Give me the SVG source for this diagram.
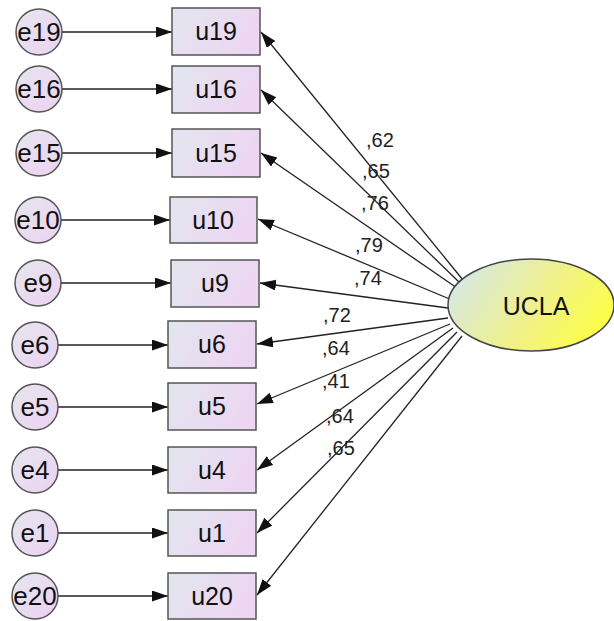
<svg xmlns="http://www.w3.org/2000/svg" width="614" height="621" viewBox="0 0 614 621">
<defs>
<linearGradient id="gRect" x1="0" y1="0" x2="1" y2="0.3">
<stop offset="0" stop-color="#e2e6ee"/><stop offset="1" stop-color="#edd6f2"/>
</linearGradient>
<linearGradient id="gCirc" x1="0" y1="0" x2="1" y2="1">
<stop offset="0" stop-color="#e6e6ee"/><stop offset="1" stop-color="#ecd2f2"/>
</linearGradient>
<linearGradient id="gEll" x1="0" y1="0.3" x2="1" y2="0.7">
<stop offset="0" stop-color="#d6e8e6"/><stop offset="0.5" stop-color="#eef08e"/><stop offset="1" stop-color="#ffff40"/>
</linearGradient>
<marker id="arr" markerUnits="userSpaceOnUse" markerWidth="18" markerHeight="12" refX="16" refY="5.5" orient="auto">
<path d="M0,0 L16,5.5 L0,11 Z" fill="#111"/>
</marker>
<style>
.rect{fill:url(#gRect);stroke:#555;stroke-width:1.5}
.circ{fill:url(#gCirc);stroke:#555;stroke-width:1.5}
.ell{fill:url(#gEll);stroke:#444;stroke-width:1.5}
.lbl{font-family:"Liberation Sans",Arial,sans-serif;font-size:25px;fill:#111;text-anchor:middle}
.el{font-size:26px}
.w{font-family:"Liberation Sans",Arial,sans-serif;font-size:20px;fill:#222}
.con{stroke:#222;stroke-width:1.3;fill:none;marker-end:url(#arr)}
</style>
</defs>
<g id="connectors">
<line class="con" x1="62" y1="32" x2="172" y2="32"/>
<line class="con" x1="62" y1="89" x2="172" y2="89"/>
<line class="con" x1="62" y1="153" x2="172" y2="153"/>
<line class="con" x1="61" y1="220" x2="170" y2="220"/>
<line class="con" x1="61" y1="283" x2="171" y2="283"/>
<line class="con" x1="58" y1="345" x2="168" y2="345"/>
<line class="con" x1="58" y1="407" x2="168" y2="407"/>
<line class="con" x1="58" y1="470" x2="168" y2="470"/>
<line class="con" x1="58" y1="533" x2="168" y2="533"/>
<line class="con" x1="58" y1="596" x2="168" y2="596"/>
<line class="con" x1="463" y1="280" x2="261" y2="32"/>
<line class="con" x1="460" y1="283" x2="261" y2="90"/>
<line class="con" x1="457" y1="288" x2="261" y2="153"/>
<line class="con" x1="452" y1="300" x2="258" y2="219"/>
<line class="con" x1="448" y1="308" x2="260" y2="283"/>
<line class="con" x1="448" y1="318" x2="257" y2="344"/>
<line class="con" x1="450" y1="324" x2="257" y2="404"/>
<line class="con" x1="453" y1="328" x2="257" y2="470"/>
<line class="con" x1="457" y1="332" x2="257" y2="533"/>
<line class="con" x1="462" y1="336" x2="257" y2="595"/>
<text class="w" x="366" y="147">,62</text>
<text class="w" x="362" y="178">,65</text>
<text class="w" x="361" y="210">,76</text>
<text class="w" x="355" y="252">,79</text>
<text class="w" x="354" y="285">,74</text>
<text class="w" x="323" y="322">,72</text>
<text class="w" x="322" y="355">,64</text>
<text class="w" x="322" y="388">,41</text>
<text class="w" x="326" y="423">,64</text>
<text class="w" x="327" y="455">,65</text>
</g>
<g id="UCLA"><ellipse class="ell" cx="531" cy="305" rx="83" ry="46"/><text class="lbl" x="536" y="315">UCLA</text></g>
<g id="u19"><rect class="rect" x="172" y="8" width="88" height="47"/><text class="lbl" x="216" y="40">u19</text></g>
<g id="u16"><rect class="rect" x="172" y="66" width="88" height="47"/><text class="lbl" x="216" y="98">u16</text></g>
<g id="u15"><rect class="rect" x="172" y="129" width="88" height="48"/><text class="lbl" x="216" y="162">u15</text></g>
<g id="u10"><rect class="rect" x="170" y="197" width="87" height="46"/><text class="lbl" x="213" y="229">u10</text></g>
<g id="u9"><rect class="rect" x="171" y="260" width="88" height="47"/><text class="lbl" x="215" y="292">u9</text></g>
<g id="u6"><rect class="rect" x="168" y="321" width="88" height="47"/><text class="lbl" x="212" y="353">u6</text></g>
<g id="u5"><rect class="rect" x="168" y="383" width="88" height="47"/><text class="lbl" x="212" y="415">u5</text></g>
<g id="u4"><rect class="rect" x="168" y="447" width="88" height="46"/><text class="lbl" x="212" y="479">u4</text></g>
<g id="u1"><rect class="rect" x="168" y="510" width="88" height="46"/><text class="lbl" x="212" y="542">u1</text></g>
<g id="u20"><rect class="rect" x="168" y="573" width="88" height="46"/><text class="lbl" x="212" y="605">u20</text></g>
<g id="e19"><circle class="circ" cx="39" cy="32" r="23"/><text class="lbl el" x="39" y="41">e19</text></g>
<g id="e16"><circle class="circ" cx="39" cy="89" r="23"/><text class="lbl el" x="39" y="98">e16</text></g>
<g id="e15"><circle class="circ" cx="39" cy="153" r="23"/><text class="lbl el" x="39" y="162">e15</text></g>
<g id="e10"><circle class="circ" cx="38" cy="220" r="23"/><text class="lbl el" x="38" y="229">e10</text></g>
<g id="e9"><circle class="circ" cx="38" cy="283" r="23"/><text class="lbl el" x="38" y="292">e9</text></g>
<g id="e6"><circle class="circ" cx="35" cy="345" r="23"/><text class="lbl el" x="35" y="354">e6</text></g>
<g id="e5"><circle class="circ" cx="35" cy="407" r="23"/><text class="lbl el" x="35" y="416">e5</text></g>
<g id="e4"><circle class="circ" cx="35" cy="470" r="23"/><text class="lbl el" x="35" y="479">e4</text></g>
<g id="e1"><circle class="circ" cx="35" cy="533" r="23"/><text class="lbl el" x="35" y="542">e1</text></g>
<g id="e20"><circle class="circ" cx="35" cy="596" r="23"/><text class="lbl el" x="35" y="605">e20</text></g>
</svg>
